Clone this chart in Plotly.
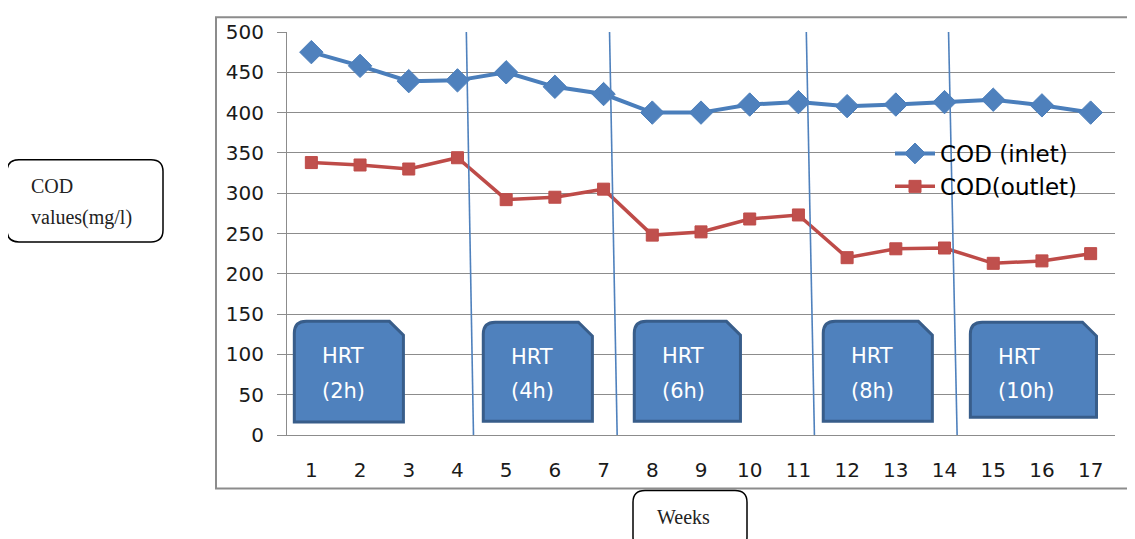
import plotly.graph_objects as go

weeks = list(range(1, 18))
cod_inlet = [475, 458, 439, 440, 450, 432, 423, 400, 400, 410, 413, 408, 410, 413, 416, 409, 400]
cod_outlet = [338, 335, 330, 344, 292, 295, 305, 248, 252, 268, 273, 220, 231, 232, 213, 216, 225]
y_ticks = [0, 50, 100, 150, 200, 250, 300, 350, 400, 450, 500]

hrt_top = ["HRT", "HRT", "HRT", "HRT", "HRT"]
hrt_bottom = ["(2h)", "(4h)", "(6h)", "(8h)", "(10h)"]
# box extents in axis units (x0, x1, y0, y1)
hrt_boxes = [(0.65, 2.89, 16, 141), (4.53, 6.77, 17, 140), (7.63, 9.81, 17, 141),
             (11.51, 13.75, 17, 141), (14.53, 17.12, 22, 140)]
# slanted separator lines (x_top, x_bottom) in axis units
separators = [(4.18, 4.33), (7.12, 7.28), (11.16, 11.33), (14.08, 14.26)]

# browser page has an 8px body margin
OFF = 8
W, H = 1135 - OFF, 539 - OFF
PL, PT, PR, PB = 287, 28, 1115, 435          # plot area in page pixels
PW, PH = PR - PL, PB - PT
L, T = PL - OFF, PT - OFF
R, B = W - L - PW, H - T - PH

def px_to_paper(px, py):
    return (px - PL) / PW, (PB - py) / PH

xs = PW / 17.0
ys = PH / 500.0

fig = go.Figure()
fig.add_trace(go.Scatter(x=weeks, y=cod_inlet, name="COD (inlet)", mode="lines+markers",
                         line=dict(color="#4A7EBB", width=4),
                         marker=dict(symbol="diamond", size=18, color="#4F81BD",
                                     line=dict(color="#4A7EBB", width=1))))
fig.add_trace(go.Scatter(x=weeks, y=cod_outlet, name="COD(outlet)", mode="lines+markers",
                         line=dict(color="#BE4B48", width=3.5),
                         marker=dict(symbol="square", size=12, color="#C0504D",
                                     line=dict(color="#BE4B48", width=1))))

shapes = []
annotations = []
hrt_font = dict(family="DejaVu Sans, sans-serif", size=21, color="white")
for (x0, x1, y0, y1), t1, t2 in zip(hrt_boxes, hrt_top, hrt_bottom):
    rx, ry = 12 / xs, 12 / ys
    sx, sy = 14 / xs, 14 / ys
    path = (f"M {x0},{y0} L {x0},{y1-ry} Q {x0},{y1} {x0+rx},{y1} "
            f"L {x1-sx},{y1} L {x1},{y1-sy} L {x1},{y0} Z")
    shapes.append(dict(type="path", path=path, xref="x", yref="y",
                       fillcolor="#4F81BD", line=dict(color="#385D8A", width=3), layer="above"))
    tx = x0 + 26 / xs
    annotations.append(dict(x=tx, y=y1 - 35 / ys, xref="x", yref="y", xanchor="left", yanchor="middle",
                            text=t1, showarrow=False, font=hrt_font))
    annotations.append(dict(x=tx, y=y1 - 70 / ys, xref="x", yref="y", xanchor="left", yanchor="middle",
                            text=t2, showarrow=False, font=hrt_font))

for xt, xb in separators:
    shapes.append(dict(type="line", xref="x", yref="y", x0=xt, y0=507, x1=xb, y1=-4,
                       line=dict(color="#4F81BD", width=1.6), layer="above"))

# outer chart border
bx0, by0 = px_to_paper(216, 13)
bx1, by1 = px_to_paper(1145, 489)
shapes.append(dict(type="rect", xref="paper", yref="paper", x0=bx0, y0=by1, x1=bx1, y1=by0,
                   line=dict(color="#8C8C8C", width=2), layer="below"))

def rounded_rect(px0, py0, px1, py1, r=12):
    x0, y0 = px_to_paper(px0, py1)
    x1, y1 = px_to_paper(px1, py0)
    rx, ry = r / PW, r / PH
    return (f"M {x0+rx},{y0} L {x1-rx},{y0} Q {x1},{y0} {x1},{y0+ry} L {x1},{y1-ry} "
            f"Q {x1},{y1} {x1-rx},{y1} L {x0+rx},{y1} Q {x0},{y1} {x0},{y1-ry} "
            f"L {x0},{y0+ry} Q {x0},{y0} {x0+rx},{y0} Z")

shapes.append(dict(type="path", xref="paper", yref="paper", path=rounded_rect(7, 157, 163, 240),
                   line=dict(color="black", width=1.5), fillcolor="white"))
shapes.append(dict(type="path", xref="paper", yref="paper", path=rounded_rect(633, 491, 747, 550),
                   line=dict(color="black", width=1.5), fillcolor="white"))

serif = dict(family="Liberation Serif, Times New Roman, serif", size=20, color="#222")
for txt, py in (("COD", 184), ("values(mg/l)", 215)):
    ax, ay = px_to_paper(29, py)
    annotations.append(dict(x=ax, y=ay, xref="paper", yref="paper", xanchor="left", yanchor="middle",
                            text=txt, showarrow=False, font=serif))
wx, wy = px_to_paper(683, 518)
annotations.append(dict(x=wx, y=wy, xref="paper", yref="paper", xanchor="center", yanchor="middle",
                        text="Weeks", showarrow=False, font=serif))

lx, ly = px_to_paper(890, 129)
fig.update_layout(
    width=W, height=H,
    margin=dict(l=L, r=R, t=T, b=B, pad=0),
    paper_bgcolor="white", plot_bgcolor="white",
    font=dict(family="DejaVu Sans, sans-serif", size=20, color="#1a1a1a"),
    showlegend=True,
    legend=dict(x=lx, y=ly, xanchor="left", yanchor="top", bgcolor="rgba(0,0,0,0)",
                font=dict(size=23, color="black"), tracegroupgap=0, itemwidth=40),
    shapes=shapes,
    annotations=annotations,
    xaxis=dict(range=[0.5, 17.5], tickvals=weeks, ticktext=[str(w) for w in weeks],
               showgrid=False, zeroline=False, showline=True, linecolor="#8C8C8C", linewidth=1,
               ticks="", ticklabelstandoff=17, fixedrange=True),
    yaxis=dict(range=[0, 500], tickvals=y_ticks, showgrid=True, gridcolor="#8C8C8C", gridwidth=1,
               zeroline=False, showline=True, linecolor="#8C8C8C", linewidth=1,
               ticks="outside", ticklen=9, tickcolor="#8C8C8C", ticklabelstandoff=9,
               fixedrange=True),
)

fig.write_html("out.html")
